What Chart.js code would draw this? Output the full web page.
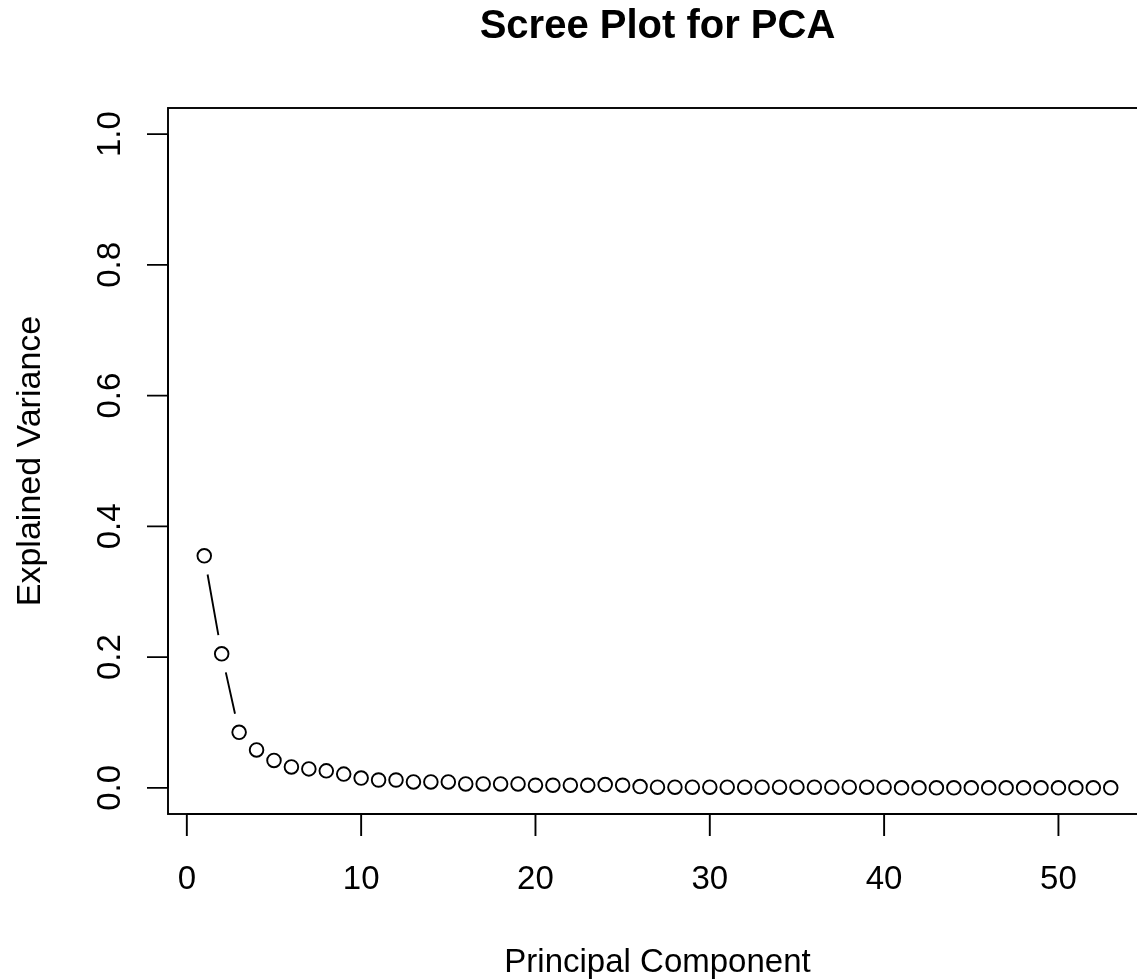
<!DOCTYPE html>
<html>
<head>
<meta charset="utf-8">
<title>Scree Plot for PCA</title>
<script src="https://cdn.jsdelivr.net/npm/chart.js@4.4.1/dist/chart.umd.min.js"></script>
<style>
  html, body { margin: 0; padding: 0; background: #fff; overflow: hidden; }
  canvas { display: block; }
</style>
</head>
<body>
<canvas id="scree" width="1160" height="979"></canvas>
<script>
// Data
const components = Array.from({ length: 53 }, (_, i) => i + 1);
const explainedVariance = [
    0.355, 0.205, 0.085, 0.058, 0.042, 0.032, 0.029, 0.026, 0.021, 0.015,
    0.012, 0.012, 0.009, 0.009, 0.009, 0.006, 0.006, 0.006, 0.006, 0.004,
    0.004, 0.004, 0.004, 0.005, 0.004, 0.002, 0.001, 0.001, 0.001, 0.001,
    0.001, 0.001, 0.001, 0.001, 0.001, 0.001, 0.001, 0.001, 0.001, 0.001,
    0.000, 0.000, 0.000, 0.000, 0.000, 0.000, 0.000, 0.000, 0.000, 0.000,
    0.000, 0.000, 0.000
];
const xTicks = [0, 10, 20, 30, 40, 50];
const yTicks = [0, 0.2, 0.4, 0.6, 0.8, 1.0];
const yTickLabels = ['0.0', '0.2', '0.4', '0.6', '0.8', '1.0'];

const titleText = 'Scree Plot for PCA';
const xTitle = 'Principal Component';
const yTitle = 'Explained Variance';
const FONT = '"Liberation Sans", Arial, Helvetica, sans-serif';

/**
 * R style frame, axes and labels
 */
const baseAxes = {
    id: 'baseAxes',
    afterDraw(chart) {
        const { ctx, chartArea: a, scales } = chart;
        const xs = scales.x, ys = scales.y;
        const cx = (a.left + a.right) / 2;
        const cy = (a.top + a.bottom) / 2;
        ctx.save();
        ctx.strokeStyle = '#000';
        ctx.fillStyle = '#000';
        ctx.lineWidth = 1.9;

        // box
        ctx.strokeRect(a.left, a.top, a.right - a.left, a.bottom - a.top);

        // x axis
        ctx.beginPath();
        ctx.moveTo(xs.getPixelForValue(xTicks[0]), a.bottom);
        ctx.lineTo(xs.getPixelForValue(xTicks[xTicks.length - 1]), a.bottom);
        xTicks.forEach(t => {
            const px = xs.getPixelForValue(t);
            ctx.moveTo(px, a.bottom);
            ctx.lineTo(px, a.bottom + 22);
        });
        // y axis
        ctx.moveTo(a.left, ys.getPixelForValue(yTicks[0]));
        ctx.lineTo(a.left, ys.getPixelForValue(yTicks[yTicks.length - 1]));
        yTicks.forEach(t => {
            const py = ys.getPixelForValue(t);
            ctx.moveTo(a.left, py);
            ctx.lineTo(a.left - 21, py);
        });
        ctx.stroke();

        // tick labels
        ctx.font = '33px ' + FONT;
        ctx.textAlign = 'center';
        ctx.textBaseline = 'alphabetic';
        xTicks.forEach(t => {
            ctx.fillText(String(t), xs.getPixelForValue(t), 889);
        });
        yTicks.forEach((t, i) => {
            ctx.save();
            ctx.translate(120, ys.getPixelForValue(t));
            ctx.rotate(-Math.PI / 2);
            ctx.fillText(yTickLabels[i], 0, 0);
            ctx.restore();
        });

        // axis titles
        ctx.fillText(xTitle, cx, 972);
        ctx.save();
        ctx.translate(40, cy);
        ctx.rotate(-Math.PI / 2);
        ctx.font = '34px ' + FONT;
        ctx.fillText(yTitle, 0, 0);
        ctx.restore();

        // main title
        ctx.font = 'bold 40px ' + FONT;
        ctx.fillText(titleText, cx, 38);
        ctx.restore();
    }
};

/**
 * Lines between points with a gap round each point (type = "b")
 */
const gappedLines = {
    id: 'gappedLines',
    afterDatasetsDraw(chart) {
        const pts = chart.getDatasetMeta(0).data;
        const gap = 19;
        const { ctx } = chart;
        ctx.save();
        ctx.strokeStyle = '#000';
        ctx.lineWidth = 1.9;
        ctx.beginPath();
        for (let i = 1; i < pts.length; i++) {
            const p0 = pts[i - 1], p1 = pts[i];
            const dx = p1.x - p0.x, dy = p1.y - p0.y;
            const d = Math.hypot(dx, dy);
            if (d <= 2 * gap) continue;
            const ux = dx / d, uy = dy / d;
            ctx.moveTo(p0.x + ux * gap, p0.y + uy * gap);
            ctx.lineTo(p1.x - ux * gap, p1.y - uy * gap);
        }
        ctx.stroke();
        ctx.restore();
    }
};

new Chart(document.getElementById('scree'), {
    type: 'scatter',
    data: {
        datasets: [{
            label: yTitle,
            data: components.map((c, i) => ({ x: c, y: explainedVariance[i] })),
            showLine: false,
            pointStyle: 'circle',
            pointRadius: 6.8,
            pointBorderWidth: 1.9,
            pointBackgroundColor: 'rgba(255,255,255,0)',
            pointBorderColor: '#000'
        }]
    },
    options: {
        responsive: false,
        devicePixelRatio: 1,
        animation: false,
        layout: {
            padding: { left: 168, top: 108, right: 13, bottom: 165 }
        },
        plugins: {
            legend: { display: false },
            title: { display: false },
            tooltip: { enabled: false }
        },
        scales: {
            x: { type: 'linear', min: -1.08, max: 55.08, display: false },
            y: { type: 'linear', min: -0.04, max: 1.04, display: false }
        }
    },
    plugins: [baseAxes, gappedLines]
});
</script>
</body>
</html>
